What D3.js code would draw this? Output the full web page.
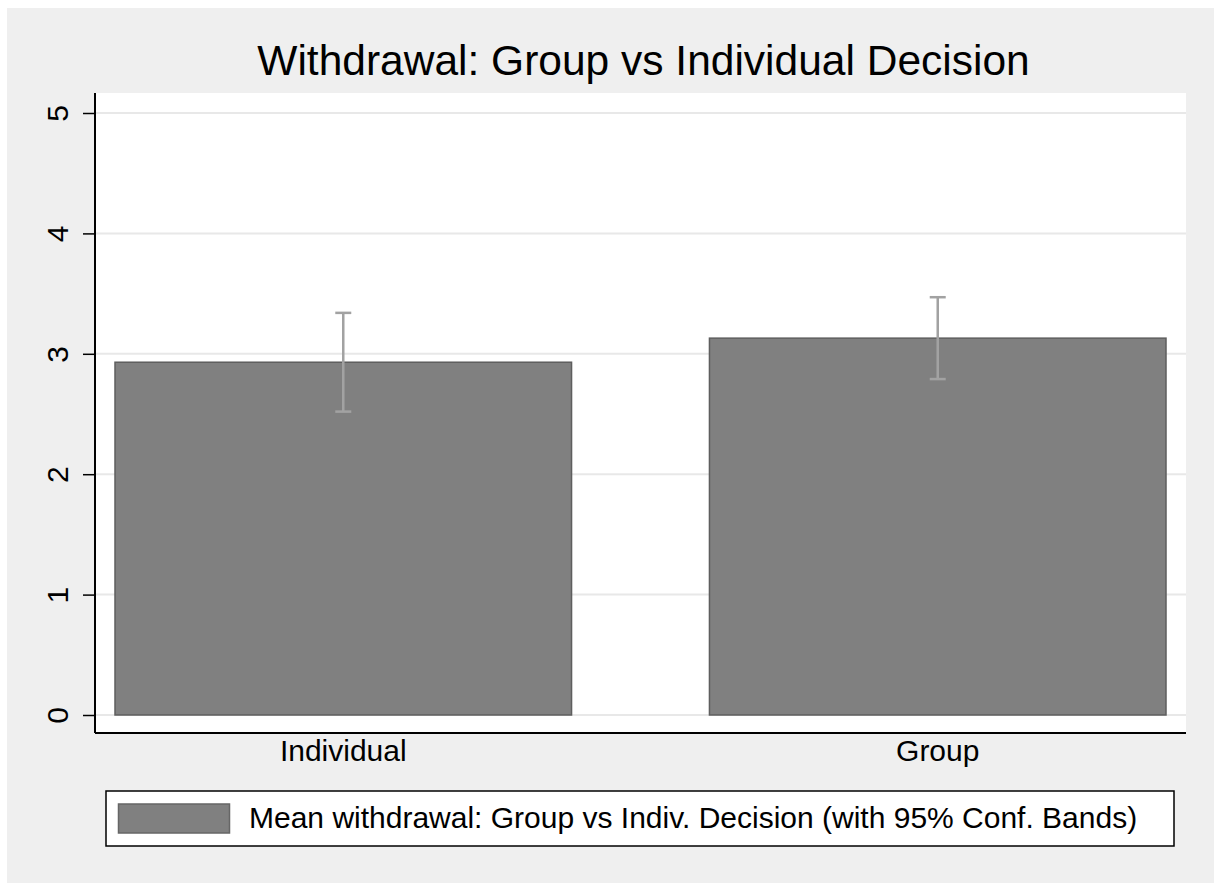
<!DOCTYPE html>
<html>
<head>
<meta charset="utf-8">
<script src="https://cdn.jsdelivr.net/npm/d3@7"></script>
<style>
  html, body { margin: 0; padding: 0; background: #ffffff; }
  svg { display: block; font-family: "Liberation Sans", Arial, Helvetica, sans-serif; }
</style>
</head>
<body>
<svg id="chart" width="1214" height="883"></svg>
<script>
// Mean withdrawal by decision type, with 95% confidence bands
const categories = ["Individual", "Group"];
const means = [2.93, 3.13];
const ciLower = [2.52, 2.79];
const ciUpper = [3.34, 3.47];
const yTicks = [0, 1, 2, 3, 4, 5];
const titleText = "Withdrawal: Group vs Individual Decision";
const legendText = "Mean withdrawal: Group vs Indiv. Decision (with 95% Conf. Bands)";

const W = 1214, H = 883;
const plot = { left: 95, right: 1186, top: 93, bottom: 733 };

const svg = d3.select("#chart");

// graph region background
svg.append("rect")
  .attr("x", 7).attr("y", 8)
  .attr("width", W - 7).attr("height", H - 8)
  .attr("fill", "#efefef");

// plot region
svg.append("rect")
  .attr("x", plot.left).attr("y", plot.top)
  .attr("width", plot.right - plot.left).attr("height", plot.bottom - plot.top)
  .attr("fill", "#ffffff");

const y = d3.scaleLinear().domain([0, 5]).range([plot.bottom - 18, plot.top + 20]);

const x = d3.scaleBand()
  .domain(categories)
  .range([plot.left + 20, plot.right - 20])
  .paddingInner(0.232)
  .paddingOuter(0);

// horizontal grid lines
svg.append("g")
  .selectAll("line")
  .data(yTicks)
  .join("line")
  .attr("x1", plot.left).attr("x2", plot.right)
  .attr("y1", d => y(d)).attr("y2", d => y(d))
  .attr("stroke", "#e8e8e8")
  .attr("stroke-width", 2);

// bars
svg.append("g")
  .selectAll("rect")
  .data(categories)
  .join("rect")
  .attr("x", d => x(d))
  .attr("y", (d, i) => y(means[i]))
  .attr("width", x.bandwidth())
  .attr("height", (d, i) => y(0) - y(means[i]))
  .attr("fill", "#808080")
  .attr("stroke", "#5e5e5e")
  .attr("stroke-width", 1.5);

// confidence bands
const ci = svg.append("g")
  .attr("stroke", "#a2a2a2")
  .attr("stroke-width", 2.5)
  .selectAll("g")
  .data(categories)
  .join("g");
const cx = d => x(d) + x.bandwidth() / 2;
ci.append("line")
  .attr("x1", cx).attr("x2", cx)
  .attr("y1", (d, i) => y(ciLower[i]))
  .attr("y2", (d, i) => y(ciUpper[i]));
ci.append("line")
  .attr("x1", d => cx(d) - 8).attr("x2", d => cx(d) + 8)
  .attr("y1", (d, i) => y(ciUpper[i])).attr("y2", (d, i) => y(ciUpper[i]));
ci.append("line")
  .attr("x1", d => cx(d) - 8).attr("x2", d => cx(d) + 8)
  .attr("y1", (d, i) => y(ciLower[i])).attr("y2", (d, i) => y(ciLower[i]));

// y axis
const yAxis = d3.axisLeft(y).tickValues(yTicks).tickSize(12).tickPadding(0).tickFormat(d3.format("d"));
const gy = svg.append("g").attr("transform", `translate(${plot.left},0)`).call(yAxis);
gy.select(".domain").remove();
gy.selectAll(".tick line").attr("stroke", "#000").attr("stroke-width", 1.5);
gy.selectAll(".tick text")
  .attr("x", null).attr("dy", null)
  .attr("transform", "translate(-27,0) rotate(-90)")
  .attr("text-anchor", "middle")
  .attr("fill", "#000")
  .style("font-size", "30px")
  .style("font-family", "'Liberation Sans', Arial, sans-serif");
svg.append("line")
  .attr("x1", plot.left).attr("x2", plot.left)
  .attr("y1", plot.top).attr("y2", plot.bottom)
  .attr("stroke", "#000").attr("stroke-width", 2);

// x axis
const xAxis = d3.axisBottom(x).tickSize(0).tickPadding(0);
const gx = svg.append("g").attr("transform", `translate(0,${plot.bottom})`).call(xAxis);
gx.select(".domain").remove();
gx.selectAll(".tick text")
  .attr("y", 28).attr("dy", null)
  .attr("fill", "#000")
  .style("font-size", "30px")
  .style("font-family", "'Liberation Sans', Arial, sans-serif");
svg.append("line")
  .attr("x1", plot.left).attr("x2", plot.right)
  .attr("y1", plot.bottom).attr("y2", plot.bottom)
  .attr("stroke", "#000").attr("stroke-width", 2);

// title
svg.append("text")
  .attr("x", (plot.left + plot.right) / 2 + 3)
  .attr("y", 75)
  .attr("text-anchor", "middle")
  .attr("fill", "#000")
  .style("font-size", "42.5px")
  .text(titleText);

// legend
const lg = svg.append("g");
lg.append("rect")
  .attr("x", 106).attr("y", 791)
  .attr("width", 1068).attr("height", 55)
  .attr("fill", "#ffffff")
  .attr("stroke", "#000").attr("stroke-width", 1.5);
lg.append("rect")
  .attr("x", 118.5).attr("y", 804)
  .attr("width", 111).attr("height", 29)
  .attr("fill", "#808080")
  .attr("stroke", "#666666").attr("stroke-width", 1.5);
lg.append("text")
  .attr("x", 249).attr("y", 828)
  .attr("fill", "#000")
  .style("font-size", "30px")
  .text(legendText);
</script>
</body>
</html>
